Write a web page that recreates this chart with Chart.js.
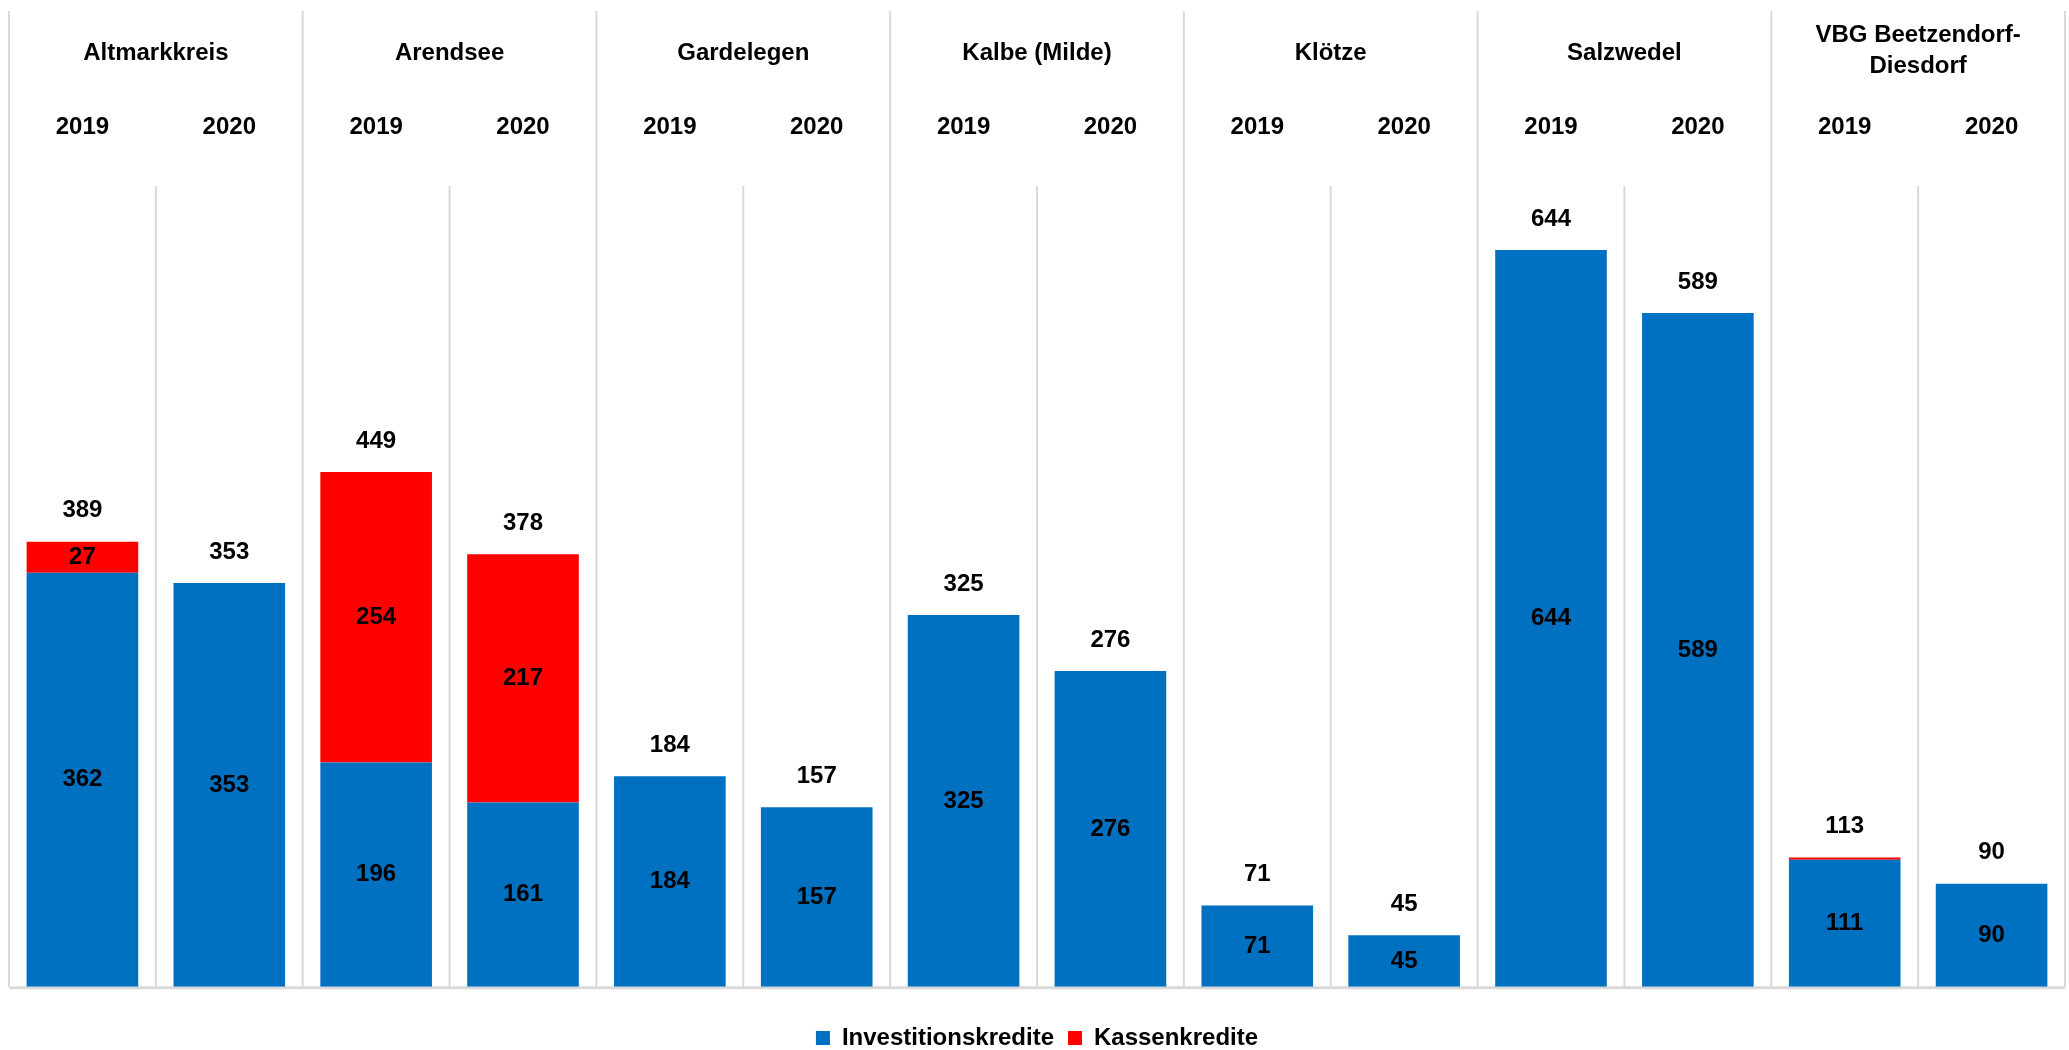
<!DOCTYPE html>
<html lang="de">
<head>
<meta charset="utf-8">
<title>Kredite je Kommune 2019/2020</title>
<script src="https://cdn.jsdelivr.net/npm/chart.js@4/dist/chart.umd.min.js"></script>
<style>
  html, body { margin: 0; padding: 0; background: #ffffff; }
  #wrap { width: 2069px; height: 1050px; }
</style>
</head>
<body>
<div id="wrap"><canvas id="kreditChart" width="2069" height="1050"></canvas></div>
<script>
// Gemeinden (je zwei Balken: 2019, 2020)
const groups = [
  ["Altmarkkreis"],
  ["Arendsee"],
  ["Gardelegen"],
  ["Kalbe (Milde)"],
  ["Klötze"],
  ["Salzwedel"],
  ["VBG Beetzendorf-", "Diesdorf"]
];
const years = ["2019", "2020"];

const categories = [];
groups.forEach(g => years.forEach(y => categories.push(g.join(" ") + " " + y)));

const investitionskredite = [362, 353, 196, 161, 184, 157, 325, 276, 71, 45, 644, 589, 111, 90];
const kassenkredite = [27, 0, 254, 217, 0, 0, 0, 0, 0, 0, 0, 0, 2, 0];
const totals = [389, 353, 449, 378, 184, 157, 325, 276, 71, 45, 644, 589, 113, 90];

const gridColor = "#d9d9d9";
const labelFont = "bold 24px 'Liberation Sans', Arial, sans-serif";

// Trennlinien, Kopfbeschriftungen und Werte
const decor = {
  id: "decor",
  beforeDatasetsDraw(chart) {
    const ctx = chart.ctx;
    const x = chart.scales.x;
    const area = chart.chartArea;
    const n = categories.length;
    const step = (area.right - area.left) / n;

    ctx.save();
    ctx.strokeStyle = gridColor;
    ctx.lineWidth = 2;
    for (let i = 0; i <= n; i++) {
      let px = i === 0 ? x.getPixelForValue(0) - step / 2 : x.getPixelForValue(i - 1) + step / 2;
      let top = i % 2 === 0 ? 11 : area.top;
      ctx.beginPath();
      ctx.moveTo(px, top);
      ctx.lineTo(px, area.bottom);
      ctx.stroke();
    }
    ctx.lineWidth = 3;
    ctx.beginPath();
    ctx.moveTo(area.left, area.bottom + 1);
    ctx.lineTo(area.right, area.bottom + 1);
    ctx.stroke();
    ctx.restore();
  },
  afterDatasetsDraw(chart) {
    const ctx = chart.ctx;
    const x = chart.scales.x;
    const y = chart.scales.y;

    ctx.save();
    ctx.font = labelFont;
    ctx.fillStyle = "#000000";
    ctx.textAlign = "center";
    ctx.textBaseline = "middle";

    // Gemeindenamen
    groups.forEach((g, gi) => {
      let cx = (x.getPixelForValue(gi * 2) + x.getPixelForValue(gi * 2 + 1)) / 2;
      if (g.length === 1) {
        ctx.fillText(g[0], cx, 53);
      } else {
        ctx.fillText(g[0], cx, 35);
        ctx.fillText(g[1], cx, 66);
      }
    });

    // Jahre
    categories.forEach((c, i) => {
      ctx.fillText(years[i % 2], x.getPixelForValue(i), 127);
    });

    // Werte in den Segmenten
    chart.data.datasets.forEach((ds, di) => {
      const meta = chart.getDatasetMeta(di);
      meta.data.forEach((bar, i) => {
        const h = Math.abs(bar.base - bar.y);
        if (!ds.data[i] || h < 26) return;
        ctx.fillText(String(ds.data[i]), bar.x, (bar.y + bar.base) / 2);
      });
    });

    // Summen über den Balken
    totals.forEach((t, i) => {
      let top = y.getPixelForValue(investitionskredite[i] + kassenkredite[i]);
      ctx.fillText(String(t), x.getPixelForValue(i), top - 31);
    });
    ctx.restore();
  }
};

new Chart(document.getElementById("kreditChart"), {
  type: "bar",
  data: {
    labels: categories,
    datasets: [
      {
        label: "Investitionskredite",
        data: investitionskredite,
        backgroundColor: "#0070c0",
        borderWidth: 0
      },
      {
        label: "Kassenkredite",
        data: kassenkredite,
        backgroundColor: "#ff0000",
        borderWidth: 0
      }
    ]
  },
  options: {
    responsive: false,
    animation: false,
    layout: {
      padding: { left: 9, right: 4, top: 186, bottom: -10 }
    },
    datasets: {
      bar: { categoryPercentage: 1.0, barPercentage: 0.76 }
    },
    scales: {
      x: { stacked: true, display: false },
      y: { stacked: true, display: false, min: 0, max: 700 }
    },
    plugins: {
      legend: {
        position: "bottom",
        title: {
          display: true,
          text: "",
          font: { size: 1 },
          padding: { top: 0, bottom: 24 }
        },
        labels: {
          color: "#000000",
          boxWidth: 14,
          boxHeight: 14,
          padding: 14,
          font: { family: "'Liberation Sans', Arial, sans-serif", size: 24, weight: "bold" }
        }
      },
      tooltip: { enabled: false }
    }
  },
  plugins: [decor]
});
</script>
</body>
</html>
